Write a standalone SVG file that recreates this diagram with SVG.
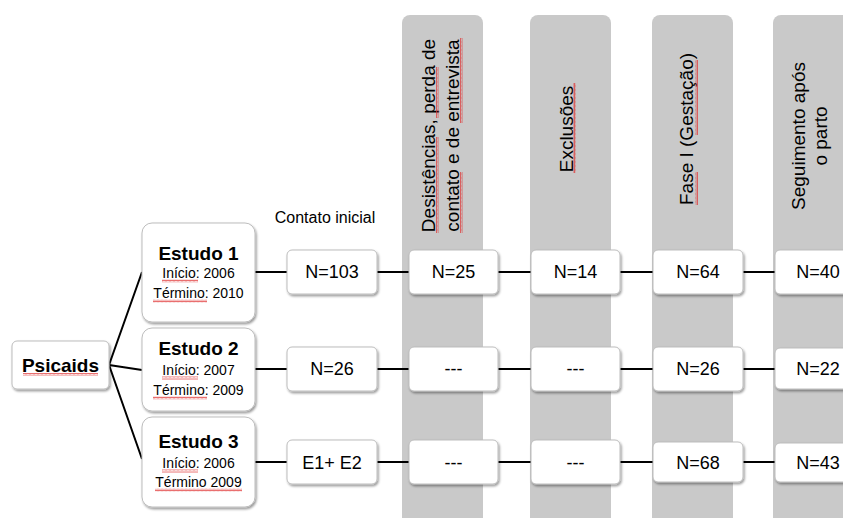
<svg xmlns="http://www.w3.org/2000/svg" width="843" height="518" viewBox="0 0 843 518">
<defs>
<filter id="sh" x="-10%" y="-10%" width="130%" height="140%">
<feDropShadow dx="1.2" dy="1.8" stdDeviation="1" flood-color="#000" flood-opacity="0.4"/>
</filter>
<pattern id="wv" patternUnits="userSpaceOnUse" width="4" height="3">
<path d="M0,2.5 L1,0.5 L2,2.5 L3,0.5 L4,2.5" fill="none" stroke="#e03030" stroke-width="0.7"/>
</pattern>
</defs>
<style>
.col{fill:#c9c9c9}
.box{fill:#fff;stroke:#bdbdbd;stroke-width:1;filter:url(#sh)}
.t{font-family:"Liberation Sans",Arial,sans-serif;fill:#000;text-anchor:middle}
.n{font-size:18px}
.h{font-size:19px}
.b{font-size:19px;font-weight:bold}
.s{font-size:14px}
.ln{stroke:#000;stroke-width:2;fill:none}
.wv{fill:url(#wv)}
</style>
<rect width="843" height="518" fill="#fff"/>

<g id="columns">
<rect class="col" x="402" y="15" width="81" height="520" rx="8"/>
<rect class="col" x="530" y="15" width="81" height="520" rx="8"/>
<rect class="col" x="652" y="15" width="81" height="520" rx="8"/>
<rect class="col" x="773" y="15" width="81" height="520" rx="8"/>
</g>

<g id="headers">
<text class="t h" transform="translate(435,135.5) rotate(-90)">Desistências, perda de</text>
<text class="t h" transform="translate(459,135.5) rotate(-90)">contato e de entrevista</text>
<text class="t h" transform="translate(573,129) rotate(-90)">Exclusões</text>
<text class="t h" transform="translate(693,129) rotate(-90)">Fase I (Gestação)</text>
<text class="t h" transform="translate(805,136) rotate(-90)">Seguimento após</text>
<text class="t h" transform="translate(827,136) rotate(-90)">o parto</text>
<text class="t" style="font-size:16px" x="325" y="223">Contato inicial</text>
<g transform="rotate(-90)">
<rect class="wv" x="-233" y="436" width="96" height="3"/>
<rect class="wv" x="-118" y="436" width="51" height="3"/>
<rect class="wv" x="-233" y="460" width="61" height="3"/>
<rect class="wv" x="-123" y="460" width="85" height="3"/>
<rect class="wv" x="-173" y="573" width="90" height="3"/>
<rect class="wv" x="-205" y="695" width="33" height="3"/>
<rect class="wv" x="-135" y="695" width="75" height="3"/>
</g>
</g>

<g id="connectors">
<path class="ln" d="M109,365 L142,272 M109,365 L142,370 M109,365 L142,459"/>
<path class="ln" d="M255,272 H287 M377,272 H409 M498,272 H531 M620,272 H653 M743,272 H775"/>
<path class="ln" d="M255,369 H287 M377,369 H409 M498,369 H531 M620,369 H653 M743,369 H775"/>
<path class="ln" d="M255,462 H287 M377,462 H409 M498,462 H531 M620,462 H653 M743,462 H775"/>
</g>

<g id="psicaids">
<rect class="box" x="12" y="341" width="97" height="48" rx="5"/>
<text class="t b" x="60.5" y="372">Psicaids</text>
<rect class="wv" x="23" y="373" width="75" height="3"/>
</g>

<g id="estudo1">
<rect class="box" x="142" y="223" width="113" height="99" rx="10"/>
<text class="t b" x="198.5" y="260">Estudo 1</text>
<text class="t s" x="198.5" y="278">Início: 2006</text>
<text class="t s" x="198.5" y="298">Término: 2010</text>
<rect class="wv" x="162" y="279.5" width="36" height="3"/>
<rect class="wv" x="153" y="299.5" width="54" height="3"/>
</g>
<g id="estudo2">
<rect class="box" x="142" y="328" width="113" height="83" rx="10"/>
<text class="t b" x="198.5" y="355">Estudo 2</text>
<text class="t s" x="198.5" y="375">Início: 2007</text>
<text class="t s" x="198.5" y="395">Término: 2009</text>
<rect class="wv" x="162" y="376.5" width="36" height="3"/>
<rect class="wv" x="153" y="396.5" width="54" height="3"/>
</g>
<g id="estudo3">
<rect class="box" x="142" y="417" width="113" height="90" rx="10"/>
<text class="t b" x="198.5" y="448">Estudo 3</text>
<text class="t s" x="198.5" y="468">Início: 2006</text>
<text class="t s" x="198.5" y="487">Término 2009</text>
<rect class="wv" x="162" y="469.5" width="36" height="3"/>
<rect class="wv" x="155" y="488.5" width="87" height="3"/>
</g>

<g id="r1c0"><rect class="box" x="287" y="250" width="90" height="44" rx="5"/><text class="t n" x="332" y="278">N=103</text></g>
<g id="r1c1"><rect class="box" x="409" y="250" width="89" height="44" rx="5"/><text class="t n" x="453.5" y="278">N=25</text></g>
<g id="r1c2"><rect class="box" x="531" y="250" width="89" height="44" rx="5"/><text class="t n" x="575.5" y="278">N=14</text></g>
<g id="r1c3"><rect class="box" x="653" y="250" width="90" height="44" rx="5"/><text class="t n" x="698" y="278">N=64</text></g>
<g id="r1c4"><rect class="box" x="775" y="250" width="90" height="44" rx="5"/><text class="t n" x="818" y="278">N=40</text></g>

<g id="r2c0"><rect class="box" x="287" y="347" width="90" height="44" rx="5"/><text class="t n" x="332" y="375">N=26</text></g>
<g id="r2c1"><rect class="box" x="409" y="347" width="89" height="44" rx="5"/><text class="t n" x="453.5" y="375">---</text></g>
<g id="r2c2"><rect class="box" x="531" y="347" width="89" height="44" rx="5"/><text class="t n" x="575.5" y="375">---</text></g>
<g id="r2c3"><rect class="box" x="653" y="347" width="90" height="44" rx="5"/><text class="t n" x="698" y="375">N=26</text></g>
<g id="r2c4"><rect class="box" x="775" y="348" width="90" height="41" rx="5"/><text class="t n" x="818" y="375">N=22</text></g>

<g id="r3c0"><rect class="box" x="287" y="440" width="90" height="44" rx="5"/><text class="t n" x="332" y="469">E1+ E2</text></g>
<g id="r3c1"><rect class="box" x="409" y="440" width="89" height="44" rx="5"/><text class="t n" x="453.5" y="469">---</text></g>
<g id="r3c2"><rect class="box" x="531" y="440" width="89" height="44" rx="5"/><text class="t n" x="575.5" y="469">---</text></g>
<g id="r3c3"><rect class="box" x="653" y="442" width="90" height="40" rx="5"/><text class="t n" x="698" y="469">N=68</text></g>
<g id="r3c4"><rect class="box" x="775" y="443" width="90" height="39" rx="5"/><text class="t n" x="818" y="469">N=43</text></g>
</svg>
